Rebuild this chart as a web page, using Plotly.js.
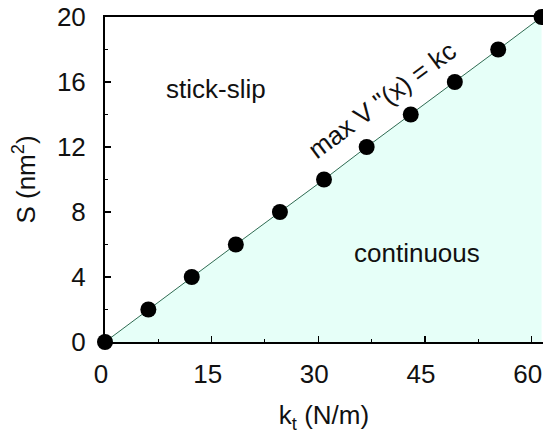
<!DOCTYPE html>
<html>
<head>
<meta charset="utf-8">
<script src="https://cdn.plot.ly/plotly-3.0.1.min.js"></script>
<style>html,body{margin:0;padding:0;background:#fff;}#chart{width:543px;height:435px;}</style>
</head>
<body>
<div id="chart"></div>
<script>
// Data
const kt = [0, 6.1, 12.2, 18.4, 24.6, 30.8, 36.8, 43.0, 49.2, 55.3, 61.4];
const S  = [0, 2, 4, 6, 8, 10, 12, 14, 16, 18, 20];
const xTicks = [0, 15, 30, 45, 60];
const yTicks = [0, 4, 8, 12, 16, 20];
const regionLabels = ["stick-slip", "continuous"];
const boundaryLabel = "max V \"(x) = kc";

const FONT = "Liberation Sans, Arial, sans-serif";

const traces = [
  {
    x: kt, y: S, type: "scatter", mode: "lines",
    line: {color: "#2f6b52", width: 1},
    fill: "tozeroy", fillcolor: "#e6fff8",
    hoverinfo: "skip", showlegend: false
  },
  {
    x: kt, y: S, type: "scatter", mode: "markers",
    marker: {color: "#000", size: 16},
    cliponaxis: false, showlegend: false
  }
];

const layout = {
  width: 543, height: 435,
  margin: {l: 105, r: 0, t: 17, b: 93},
  paper_bgcolor: "#fff", plot_bgcolor: "#fff",
  font: {family: FONT, size: 26, color: "#111"},
  showlegend: false,
  xaxis: {
    range: [0, 61.6], tickvals: xTicks, ticktext: xTicks.map(String),
    ticks: "inside", ticklen: 6, tickwidth: 1.5, tickcolor: "#000",
    minor: {dtick: 7.5, tick0: 0, ticks: "inside", ticklen: 3, tickcolor: "#000", tickwidth: 1},
    showline: true, linecolor: "#000", linewidth: 2, mirror: true,
    showgrid: false, zeroline: false,
    ticklabelstandoff: 8, ticklabeloverflow: "allow", ticklabelshift: -4,
    title: {text: "k<sub>t</sub> (N/m)", font: {size: 26}, standoff: 18}
  },
  yaxis: {
    range: [0, 20], tickvals: yTicks, ticktext: yTicks.map(String),
    ticks: "inside", ticklen: 6, tickwidth: 1.5, tickcolor: "#000",
    minor: {dtick: 2, tick0: 0, ticks: "inside", ticklen: 3, tickcolor: "#000", tickwidth: 1},
    showline: true, linecolor: "#000", linewidth: 2,
    showgrid: false, zeroline: false,
    ticklabelstandoff: 12, ticklabeloverflow: "allow",
    title: {text: "S (nm<sup>2</sup>)", font: {size: 26}, standoff: 14}
  },
  annotations: [
    {x: 15.6, y: 15.6, xref: "x", yref: "y", text: regionLabels[0], showarrow: false, font: {size: 26, color: "#111"}},
    {x: 43.9, y: 5.5, xref: "x", yref: "y", text: regionLabels[1], showarrow: false, font: {size: 26, color: "#111"}},
    {x: 39.0, y: 14.9, xref: "x", yref: "y", text: boundaryLabel, showarrow: false, textangle: -36.6, font: {size: 26, color: "#111"}}
  ]
};

Plotly.newPlot("chart", traces, layout, {displayModeBar: false, staticPlot: true});
</script>
</body>
</html>
